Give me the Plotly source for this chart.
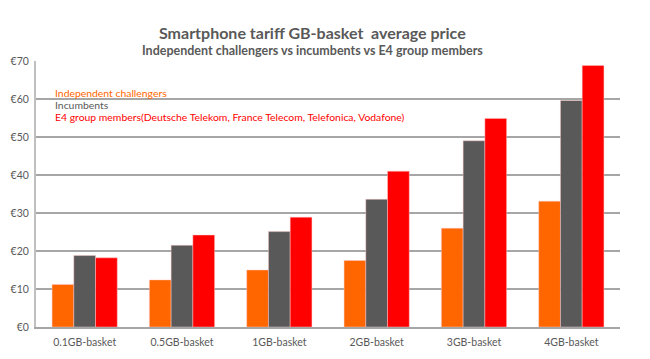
import plotly.graph_objects as go

categories = ["0.1GB-basket", "0.5GB-basket", "1GB-basket", "2GB-basket", "3GB-basket", "4GB-basket"]
challengers = [11.2, 12.4, 15.0, 17.5, 26.0, 33.1]
incumbents = [18.8, 21.5, 25.1, 33.6, 49.0, 59.6]
e4_members = [18.2, 24.2, 28.9, 41.0, 54.9, 68.8]
series_names = ["Independent challengers", "Incumbents",
                "E4 group members(Deutsche Telekom, France Telecom, Telefonica, Vodafone)"]
colors = ["#FF6600", "#595959", "#FF0000"]
y_ticks = [0, 10, 20, 30, 40, 50, 60, 70]
y_labels = ["€0", "€10", "€20", "€30", "€40", "€50", "€60", "€70"]
title_text = "Smartphone tariff GB-basket  average price"
subtitle_text = "Independent challengers vs incumbents vs E4 group members"

FONT = "Lato, Carlito, Liberation Sans, sans-serif"

fig = go.Figure()
for name, vals, c in zip(series_names, [challengers, incumbents, e4_members], colors):
    fig.add_trace(go.Bar(x=categories, y=vals, name=name, marker_color=c,
                         marker_line=dict(color="rgba(255,200,200,0.6)", width=0.8)))

legend_y = [0.879, 0.834, 0.791]
for name, c, yy in zip(series_names, colors, legend_y):
    fig.add_annotation(xref="paper", yref="paper", x=0.029, y=yy,
                       xanchor="left", yanchor="middle", showarrow=False,
                       text=name, font=dict(family=FONT, size=10.4, color=c))

fig.add_annotation(xref="paper", yref="paper", x=0.474, y=1.109, xanchor="center",
                   yanchor="middle", showarrow=False, text="<b>" + title_text + "</b>",
                   font=dict(family=FONT, size=16, color="#595959"))
fig.add_annotation(xref="paper", yref="paper", x=0.474, y=1.041, xanchor="center",
                   yanchor="middle", showarrow=False, text="<b>" + subtitle_text + "</b>",
                   font=dict(family=FONT, size=12.5, color="#595959"))

fig.update_layout(
    width=642, height=351,
    margin=dict(l=28, r=30, t=53, b=32, autoexpand=False),
    paper_bgcolor="white", plot_bgcolor="white",
    barmode="group", bargap=0.33, bargroupgap=0,
    showlegend=False,
    font=dict(family=FONT, color="#595959", size=10),
    xaxis=dict(showgrid=False, showline=True, linecolor="#a6a6a6", linewidth=1.5,
               ticks="", automargin=False, ticklabelstandoff=5,
               tickfont=dict(size=10.5, color="#595959")),
    yaxis=dict(range=[0, 70], tickvals=y_ticks, ticktext=y_labels,
               showgrid=True, gridcolor="#a6a6a6", gridwidth=1.5,
               showline=True, linecolor="#bfbfbf", linewidth=2, automargin=False,
               ticklabelstandoff=3,
               zeroline=False, ticks="", tickfont=dict(size=10.5, color="#595959")),
)

fig.write_html("out.html")
